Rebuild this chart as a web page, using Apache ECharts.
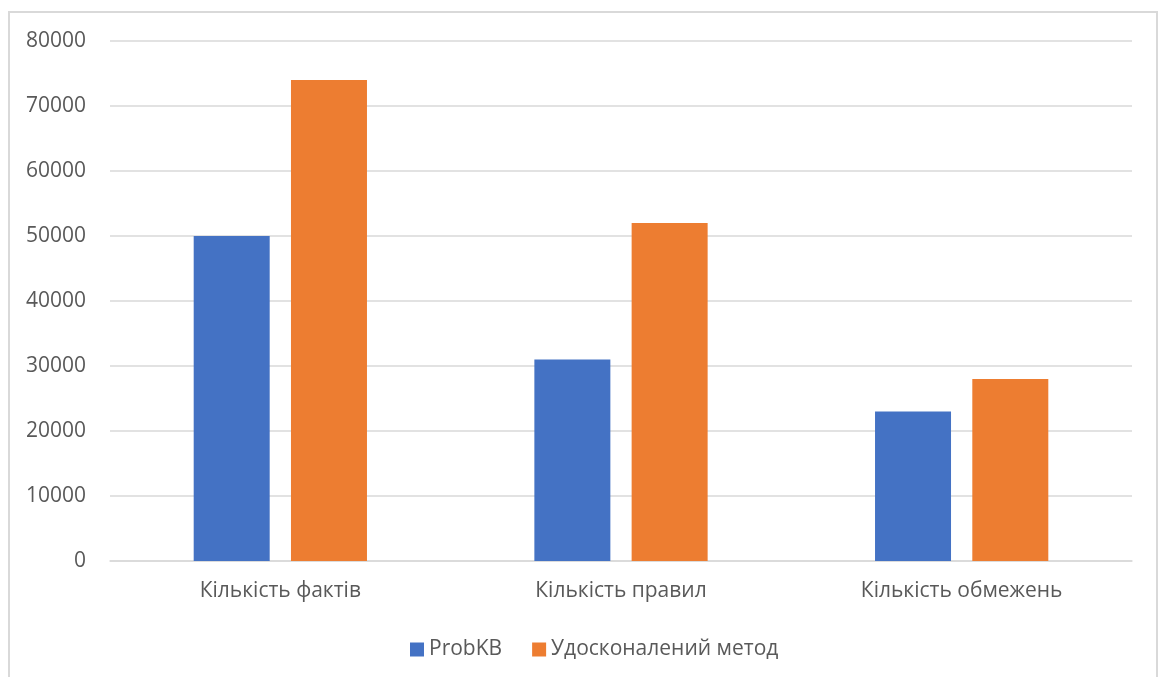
<!DOCTYPE html>
<html>
<head>
<meta charset="utf-8">
<script src="https://cdn.jsdelivr.net/npm/echarts@6/dist/echarts.min.js"></script>
<style>
  html, body { margin: 0; padding: 0; background: #fff; }
  #chart { width: 1160px; height: 677px; }
  #frame {
    position: absolute; left: 8px; top: 11px; width: 1150px; height: 700px;
    border: 2px solid #d9d9d9; box-sizing: border-box; pointer-events: none;
  }
</style>
</head>
<body>
<div id="chart"></div>
<div id="frame"></div>
<script>
const categories = ['Кількість фактів', 'Кількість правил', 'Кількість обмежень']
const probkb = [50000, 31000, 23000]
const improved = [74000, 52000, 28000]

const chart = echarts.init(document.getElementById('chart'))
const textColor = '#595959'
const font = 'Open Sans'

chart.setOption({
  animation: false,
  grid: { left: 110, right: 28, top: 41, bottom: 116 },
  legend: {
    top: 634,
    left: 405,
    itemWidth: 14,
    itemHeight: 14,
    itemGap: 30,
    icon: 'rect',
    textStyle: { color: textColor, fontSize: 21, fontFamily: font }
  },
  xAxis: {
    type: 'category',
    data: categories,
    axisTick: { show: false },
    axisLine: { lineStyle: { color: '#d9d9d9', width: 1.5 } },
    axisLabel: { color: textColor, fontSize: 21, fontFamily: font, margin: 20 }
  },
  yAxis: {
    type: 'value',
    min: 0,
    max: 80000,
    interval: 10000,
    axisLabel: {
      color: textColor, fontSize: 21, fontFamily: font, margin: 24,
      formatter: v => String(v)
    },
    splitLine: { lineStyle: { color: '#d9d9d9', width: 1.5 } }
  },
  series: [
    {
      name: 'ProbKB',
      type: 'bar',
      data: probkb,
      barWidth: 76,
      barGap: '28%',
      itemStyle: { color: '#4472c4' }
    },
    {
      name: 'Удосконалений метод',
      type: 'bar',
      data: improved,
      barWidth: 76,
      itemStyle: { color: '#ed7d31' }
    }
  ]
})
</script>
</body>
</html>
